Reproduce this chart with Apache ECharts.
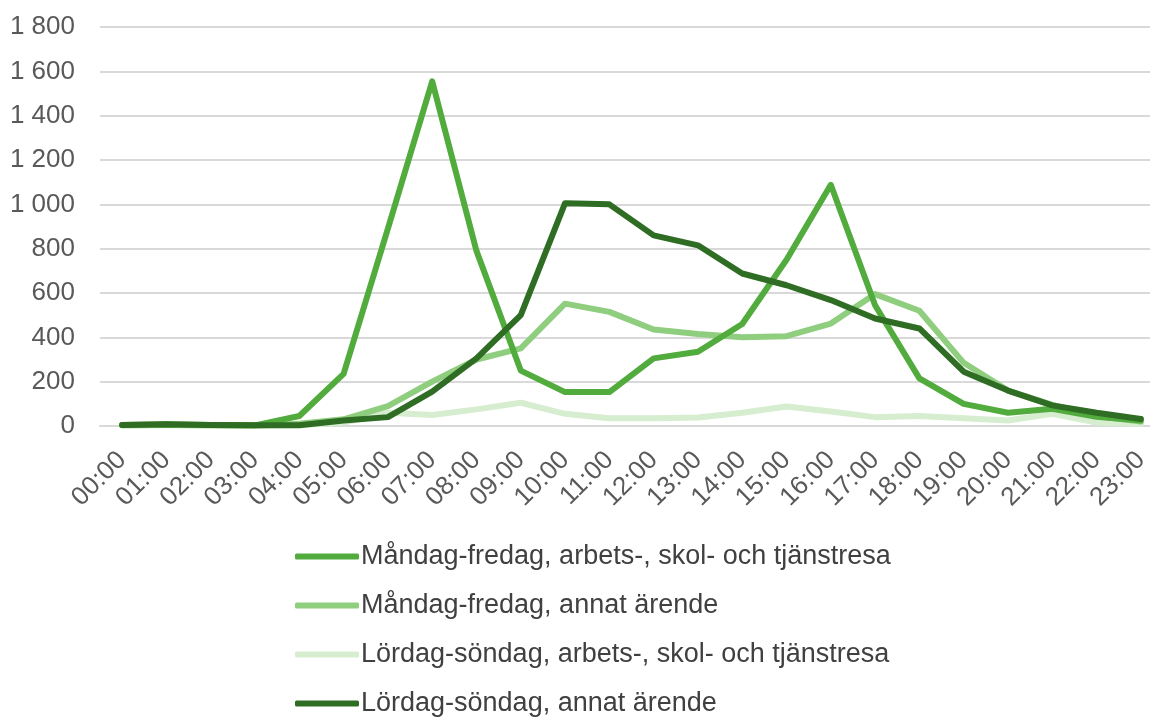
<!DOCTYPE html>
<html>
<head>
<meta charset="utf-8">
<script src="https://cdn.jsdelivr.net/npm/echarts@6/dist/echarts.min.js"></script>
<style>
    html, body { margin: 0; padding: 0; background: #fff; }
    #trips_chart { width: 1150px; height: 717px; }
</style>
</head>
<body>
<div id="trips_chart"></div>
<script>
// Chart data
// ------------------------------

var hours = ['00:00', '01:00', '02:00', '03:00', '04:00', '05:00', '06:00', '07:00', '08:00', '09:00', '10:00', '11:00',
    '12:00', '13:00', '14:00', '15:00', '16:00', '17:00', '18:00', '19:00', '20:00', '21:00', '22:00', '23:00'];

var seriesNames = [
    'Måndag-fredag, arbets-, skol- och tjänstresa',
    'Måndag-fredag, annat ärende',
    'Lördag-söndag, arbets-, skol- och tjänstresa',
    'Lördag-söndag, annat ärende'
];

var weekdayWork = [5, 8, 5, 3, 45, 235, 890, 1555, 790, 250, 153, 153, 305, 335, 460, 750, 1088, 545, 215, 100, 60, 78, 42, 25];
var weekdayOther = [3, 5, 3, 2, 10, 30, 90, 200, 300, 350, 552, 515, 435, 415, 400, 405, 462, 595, 520, 285, 160, 95, 45, 20];
var weekendWork = [2, 3, 2, 2, 5, 15, 60, 50, 75, 105, 55, 35, 35, 38, 60, 88, 65, 40, 45, 35, 25, 55, 15, 10];
var weekendOther = [5, 8, 5, 3, 3, 25, 40, 155, 305, 500, 1005, 1000, 860, 815, 688, 635, 568, 485, 440, 245, 160, 93, 60, 32];

var yTicks = { min: 0, max: 1800, interval: 200 };


// Setup chart
// ------------------------------

var TripsChart = function() {

    var _tripsChart = function() {
        if (typeof echarts == 'undefined') {
            console.warn('Warning - echarts.min.js is not loaded.');
            return;
        }

        var trips_element = document.getElementById('trips_chart');
        if (!trips_element) {
            return;
        }

        var trips = echarts.init(trips_element);

        // Space as thousands separator
        var formatThousands = function(value) {
            return String(value).replace(/\B(?=(\d{3})+(?!\d))/g, ' ');
        };

        var makeLine = function(name, data, color, z) {
            return {
                name: name,
                type: 'line',
                data: data,
                z: z,
                symbol: 'none',
                smooth: false,
                lineStyle: {
                    color: color,
                    width: 6,
                    cap: 'round',
                    join: 'round'
                },
                itemStyle: {
                    color: color
                }
            };
        };

        trips.setOption({
            animation: false,

            textStyle: {
                fontFamily: '"Liberation Sans", Arial, sans-serif'
            },

            grid: {
                left: 100,
                top: 27,
                width: 1063,
                bottom: 291,
                outerBoundsMode: 'none',
                containLabel: false
            },

            legend: {
                orient: 'vertical',
                left: 295,
                top: 543,
                height: 180,
                padding: 0,
                itemWidth: 64,
                itemHeight: 6,
                itemGap: 22,
                icon: 'roundRect',
                textStyle: {
                    color: '#404040',
                    fontSize: 27,
                    padding: [0, 0, 0, -3]
                },
                data: seriesNames
            },

            xAxis: {
                type: 'category',
                boundaryGap: true,
                data: hours,
                axisLine: {
                    lineStyle: { color: '#d9d9d9', width: 2 }
                },
                axisTick: {
                    inside: true,
                    length: 8,
                    lineStyle: { color: '#d9d9d9', width: 2 }
                },
                axisLabel: {
                    rotate: 45,
                    interval: 0,
                    margin: 30,
                    color: '#595959',
                    fontSize: 26
                }
            },

            yAxis: {
                type: 'value',
                min: yTicks.min,
                max: yTicks.max,
                interval: yTicks.interval,
                axisLine: { show: false },
                axisTick: { show: false },
                axisLabel: {
                    margin: 25,
                    color: '#595959',
                    fontSize: 26,
                    formatter: formatThousands
                },
                splitLine: {
                    lineStyle: { color: '#d9d9d9', width: 2 }
                }
            },

            series: [
                makeLine(seriesNames[0], weekdayWork, '#52ab3d', 3),
                makeLine(seriesNames[1], weekdayOther, '#8fce7e', 2),
                makeLine(seriesNames[2], weekendWork, '#d6edcf', 1),
                makeLine(seriesNames[3], weekendOther, '#2e6d23', 4)
            ]
        });
    };

    return {
        init: function() {
            _tripsChart();
        }
    }
}();

document.addEventListener('DOMContentLoaded', function() {
    TripsChart.init();
});
</script>
</body>
</html>
